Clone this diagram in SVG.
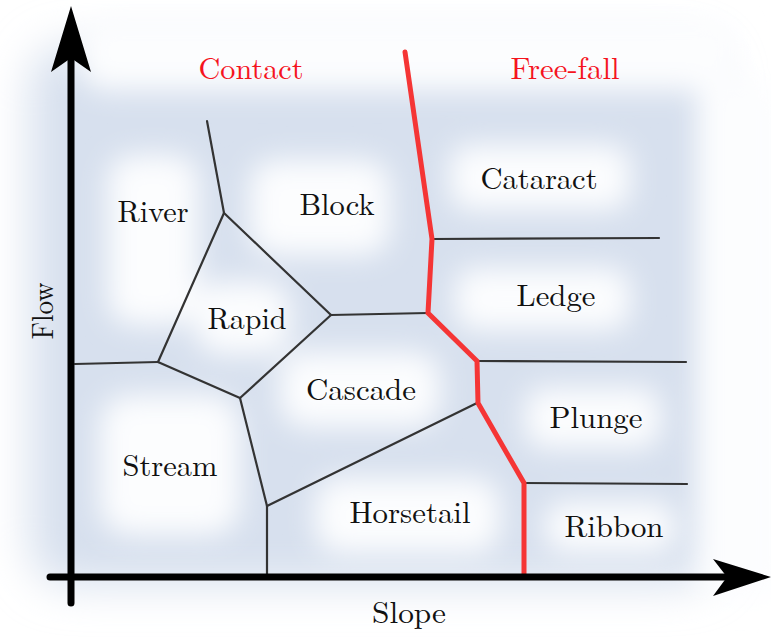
<svg xmlns="http://www.w3.org/2000/svg" width="771" height="637" viewBox="0 0 771 637">
<defs>
<filter id="bg" x="-20%" y="-20%" width="140%" height="140%"><feGaussianBlur stdDeviation="22"/></filter>
<filter id="blob" x="-50%" y="-50%" width="200%" height="200%"><feGaussianBlur stdDeviation="14"/></filter>
<style>
.lbl{font-family:'Latin Modern Roman','Liberation Serif',serif;font-size:30.5px;fill:#111;text-anchor:middle}
.red{fill:#f5141e}
.edge{stroke:#333;stroke-width:2.2;fill:none;stroke-linecap:round;stroke-linejoin:round}
.fall{stroke:#f53535;stroke-width:5;fill:none;stroke-linecap:round;stroke-linejoin:miter}
.axis{stroke:#000;stroke-width:7;fill:none;stroke-linecap:round}
.b{fill:#fcfdfe}
</style>
</defs>
<rect width="771" height="637" fill="#ffffff"/>
<g id="background">
<rect x="30" y="45" width="690" height="540" rx="40" fill="#d7e0ee" filter="url(#bg)"/>
<g filter="url(#blob)">
<rect class="b" x="108" y="155" width="90" height="170" rx="25"/>
<rect class="b" x="250" y="160" width="140" height="95" rx="25"/>
<rect class="b" x="450" y="145" width="180" height="65" rx="20"/>
<rect class="b" x="455" y="268" width="175" height="62" rx="20"/>
<rect class="b" x="195" y="282" width="95" height="72" rx="25"/>
<rect class="b" x="280" y="352" width="160" height="75" rx="25"/>
<rect class="b" x="525" y="388" width="135" height="60" rx="20"/>
<rect class="b" x="100" y="395" width="140" height="140" rx="30"/>
<rect class="b" x="315" y="478" width="185" height="75" rx="25"/>
<rect class="b" x="545" y="502" width="130" height="50" rx="20"/>
<rect class="b" x="80" y="15" width="660" height="75" rx="25"/>
<rect class="b" x="700" y="80" width="80" height="520" rx="25"/>
</g>
</g>
<g id="connectors">
<path class="edge" d="M207 121 L224 213"/>
<path class="edge" d="M224 213 L158 362"/>
<path class="edge" d="M224 213 L331 315"/>
<path class="edge" d="M331 315 L428 313"/>
<path class="edge" d="M331 315 L240 398"/>
<path class="edge" d="M158 362 L240 398"/>
<path class="edge" d="M75 364 L158 362"/>
<path class="edge" d="M240 398 L267 506"/>
<path class="edge" d="M267 506 L267 574"/>
<path class="edge" d="M267 506 L477 403"/>
<path class="edge" d="M432 239 L659 238"/>
<path class="edge" d="M477 361 L686 362"/>
<path class="edge" d="M524 483 L687 484"/>
<path class="fall" d="M405 52 L432 239 L428 313 L477 361 L478 403 L524 483 L524 575"/>
</g>
<g id="axes">
<path class="axis" d="M71 603 L71 60"/>
<path d="M71 6 L91 72 L71 58 L51 72 Z" fill="#000"/>
<path class="axis" d="M50 577 L725 577"/>
<path d="M771 577 L713 559 L727 577 L713 596 Z" fill="#000"/>
</g>
<g id="labels">
<text class="lbl red" x="251" y="79" textLength="105" lengthAdjust="spacingAndGlyphs">Contact</text>
<text class="lbl red" x="565" y="79" textLength="109" lengthAdjust="spacingAndGlyphs">Free-fall</text>
<g id="river"><text class="lbl" x="153" y="222" textLength="71" lengthAdjust="spacingAndGlyphs">River</text></g>
<g id="block"><text class="lbl" x="337" y="215" textLength="75" lengthAdjust="spacingAndGlyphs">Block</text></g>
<g id="cataract"><text class="lbl" x="539" y="189" textLength="117" lengthAdjust="spacingAndGlyphs">Cataract</text></g>
<g id="rapid"><text class="lbl" x="247" y="329" textLength="79" lengthAdjust="spacingAndGlyphs">Rapid</text></g>
<g id="ledge"><text class="lbl" x="556" y="306" textLength="79" lengthAdjust="spacingAndGlyphs">Ledge</text></g>
<g id="cascade"><text class="lbl" x="361" y="400" textLength="110" lengthAdjust="spacingAndGlyphs">Cascade</text></g>
<g id="plunge"><text class="lbl" x="596" y="428" textLength="93" lengthAdjust="spacingAndGlyphs">Plunge</text></g>
<g id="stream"><text class="lbl" x="170" y="476" textLength="95" lengthAdjust="spacingAndGlyphs">Stream</text></g>
<g id="horsetail"><text class="lbl" x="410" y="523" textLength="121" lengthAdjust="spacingAndGlyphs">Horsetail</text></g>
<g id="ribbon"><text class="lbl" x="614" y="537" textLength="99" lengthAdjust="spacingAndGlyphs">Ribbon</text></g>
<text class="lbl" x="409" y="623" textLength="74" lengthAdjust="spacingAndGlyphs">Slope</text>
<text class="lbl" x="0" y="0" transform="translate(53 311) rotate(-90)" textLength="57" lengthAdjust="spacingAndGlyphs">Flow</text>
</g>
</svg>
